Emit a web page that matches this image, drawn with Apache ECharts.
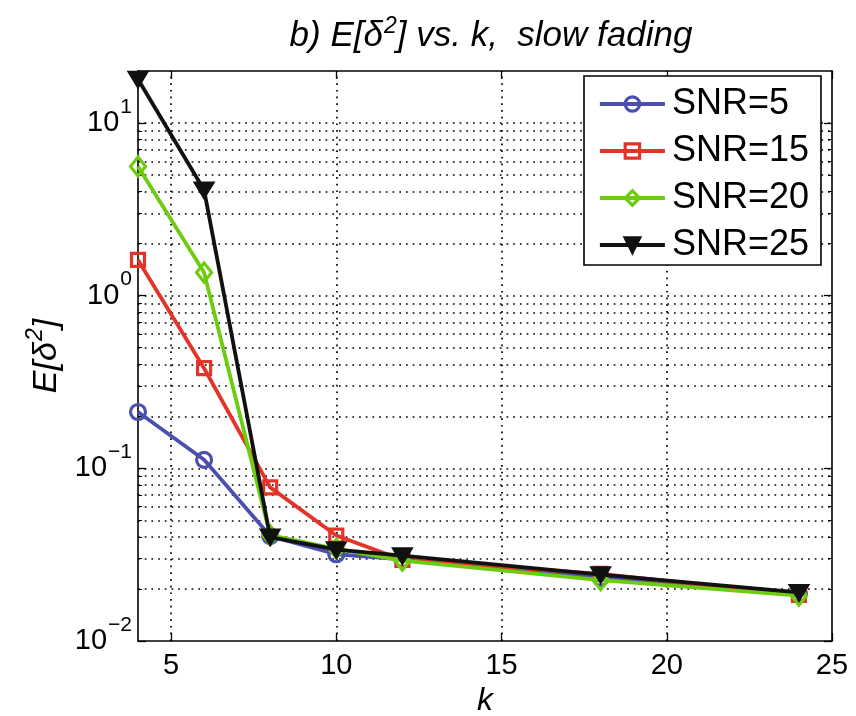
<!DOCTYPE html>
<html>
<head>
<meta charset="utf-8">
<script src="https://cdn.jsdelivr.net/npm/echarts@6/dist/echarts.min.js"></script>
<style>html,body{margin:0;padding:0;background:#fff}#c{width:856px;height:716px}</style>
</head>
<body>
<div id="c"></div>
<script>
// ---- data ----
const kValues = [4, 6, 8, 10, 12, 18, 24];
const snr5  = [0.212, 0.112, 0.0405, 0.0318, 0.0297, 0.0232, 0.0187];
const snr15 = [1.61, 0.38, 0.0776, 0.0408, 0.0295, 0.0245, 0.0185];
const snr20 = [5.6, 1.36, 0.041, 0.0342, 0.0292, 0.0225, 0.0183];
const snr25 = [17.9, 4.09, 0.0400, 0.0338, 0.0312, 0.0242, 0.0191];
const seriesNames = ['SNR=5', 'SNR=15', 'SNR=20', 'SNR=25'];
const xTicks = [5, 10, 15, 20, 25];
const yMajor = [0.01, 0.1, 1, 10];
const yMinor = [0.02, 0.03, 0.04, 0.05, 0.06, 0.07, 0.08, 0.09,
                0.2, 0.3, 0.4, 0.5, 0.6, 0.7, 0.8, 0.9,
                2, 3, 4, 5, 6, 7, 8, 9];
const xGrid = [5, 10, 15, 20];
const yGrid = [0.1, 1, 10].concat(yMinor);

const colors = ['#4b4fae', '#e3342a', '#6dcc0e', '#111111'];
const fills = ['rgba(255,255,255,0)', 'rgba(255,255,255,0)', 'rgba(255,255,255,0)', '#111111'];
const symbols = ['circle', 'rect', 'diamond', 'path://M0,0L10,0L5,9Z'];
const symbolSizes = [15, 13, [15, 19], [17, 14]];
const seriesData = [snr5, snr15, snr20, snr25];

const FONT = 'Liberation Sans';
const YMIN = 0.01, YMAX = 20, XMIN = 4, XMAX = 25;

const chart = echarts.init(document.getElementById('c'));

function yLabel(v) {
  const e = Math.round(Math.log10(v));
  const s = e < 0 ? '\u2212' + Math.abs(e) : String(e);
  return '{b|10}{s|' + s + '}';
}
const yLabelRich = {
  b: { fontSize: 29, lineHeight: 29, verticalAlign: 'bottom', fontFamily: FONT, color: '#000' },
  s: { fontSize: 21, lineHeight: 21, verticalAlign: 'bottom', padding: [0, 0, 20, 1], fontFamily: FONT, color: '#000' }
};

const lineSeries = seriesNames.map((name, i) => ({
  name: name,
  type: 'line',
  xAxisIndex: 0,
  yAxisIndex: 0,
  data: kValues.map((k, j) => [k, seriesData[i][j]]),
  symbol: symbols[i],
  symbolSize: symbolSizes[i],
  showAllSymbol: true,
  clip: false,
  z: 3 + i,
  lineStyle: { color: colors[i], width: 3.8 },
  itemStyle: { color: fills[i], borderColor: colors[i], borderWidth: 3.2 },
  emphasis: { disabled: true }
}));

const gridSeries = {
  type: 'line',
  xAxisIndex: 0,
  yAxisIndex: 0,
  data: [],
  silent: true,
  markLine: {
    silent: true,
    z: 1,
    symbol: 'none',
    animation: false,
    label: { show: false },
    lineStyle: { color: '#000', width: 1.7, type: [1.7, 5] },
    emphasis: { disabled: true },
    data: xGrid.map(v => ({ xAxis: v })).concat(yGrid.map(v => ({ yAxis: v })))
  }
};

const axisLineStyle = { color: '#000', width: 1.6 };

const option = {
  animation: false,
  backgroundColor: '#fff',
  title: {
    text: '{a|b) E[\u03b4}{s|2}{a|] vs. k,  slow fading}',
    left: 486,
    top: 14,
    textAlign: 'center',
    textStyle: {
      fontWeight: 'normal',
      rich: {
        a: { fontSize: 35, fontStyle: 'italic', fontWeight: 'normal', fontFamily: FONT, color: '#000', lineHeight: 35, verticalAlign: 'bottom' },
        s: { fontSize: 23, fontStyle: 'italic', fontWeight: 'normal', fontFamily: FONT, color: '#000', lineHeight: 23, verticalAlign: 'bottom', padding: [0, 0, 16, 1] }
      }
    }
  },
  legend: {
    data: seriesNames,
    orient: 'vertical',
    left: 584,
    top: 76,
    padding: [10, 12, 2, 14],
    itemGap: 11,
    itemWidth: 65,
    itemHeight: 18,
    lineStyle: { width: 3.8 },
    itemStyle: { borderWidth: 3.2 },
    backgroundColor: '#fff',
    borderColor: '#000',
    borderWidth: 1.6,
    borderRadius: 0,
    selectedMode: false,
    textStyle: { fontSize: 36, fontFamily: FONT, color: '#000', lineHeight: 34, padding: [0, 0, 0, 2] }
  },
  grid: { left: 138, right: 24, top: 71, bottom: 75, containLabel: false, outerBoundsMode: 'none' },
  xAxis: [
    {
      type: 'value', min: XMIN, max: XMAX, position: 'bottom',
      axisLine: { show: true, onZero: false, lineStyle: axisLineStyle },
      axisTick: { show: true, inside: true, length: 8, customValues: xTicks, lineStyle: { color: '#000', width: 1.3 } },
      axisLabel: { show: true, customValues: xTicks, fontSize: 29, fontFamily: FONT, color: '#000', margin: 10 },
      splitLine: { show: false },
      name: 'k', nameLocation: 'middle', nameGap: 24,
      nameTextStyle: { fontSize: 32, fontStyle: 'italic', fontFamily: FONT, color: '#000' }
    },
    {
      type: 'value', min: XMIN, max: XMAX, position: 'top',
      axisLine: { show: true, onZero: false, lineStyle: axisLineStyle },
      axisTick: { show: true, inside: true, length: 8, customValues: xTicks, lineStyle: { color: '#000', width: 1.3 } },
      axisLabel: { show: false },
      splitLine: { show: false }
    }
  ],
  yAxis: [
    {
      type: 'log', min: YMIN, max: YMAX, position: 'left',
      axisLine: { show: true, onZero: false, lineStyle: axisLineStyle },
      axisTick: { show: true, inside: true, length: 8, customValues: yMajor, lineStyle: { color: '#000', width: 1.3 } },
      axisLabel: { show: true, customValues: yMajor, formatter: yLabel, rich: yLabelRich, margin: 6 },
      splitLine: { show: false },
      minorTick: { show: false },
      name: '{a|E[\u03b4}{s|2}{a|]}',
      nameLocation: 'middle', nameRotate: 90, nameGap: 74,
      nameTextStyle: {
        rich: {
          a: { fontSize: 34, fontStyle: 'italic', fontFamily: FONT, color: '#000', lineHeight: 34, verticalAlign: 'bottom' },
          s: { fontSize: 23, fontStyle: 'italic', fontFamily: FONT, color: '#000', lineHeight: 23, verticalAlign: 'bottom', padding: [0, 0, 17, 1] }
        }
      }
    },
    {
      type: 'log', min: YMIN, max: YMAX, position: 'left',
      axisLine: { show: false },
      axisTick: { show: true, inside: true, length: 4, customValues: yMinor, lineStyle: { color: '#000', width: 1 } },
      axisLabel: { show: false },
      splitLine: { show: false }
    },
    {
      type: 'log', min: YMIN, max: YMAX, position: 'right',
      axisLine: { show: true, onZero: false, lineStyle: axisLineStyle },
      axisTick: { show: true, inside: true, length: 8, customValues: yMajor, lineStyle: { color: '#000', width: 1.3 } },
      axisLabel: { show: false },
      splitLine: { show: false }
    },
    {
      type: 'log', min: YMIN, max: YMAX, position: 'right',
      axisLine: { show: false },
      axisTick: { show: true, inside: true, length: 4, customValues: yMinor, lineStyle: { color: '#000', width: 1 } },
      axisLabel: { show: false },
      splitLine: { show: false }
    }
  ],
  series: [gridSeries].concat(lineSeries)
};

chart.setOption(option);
</script>
</body>
</html>
